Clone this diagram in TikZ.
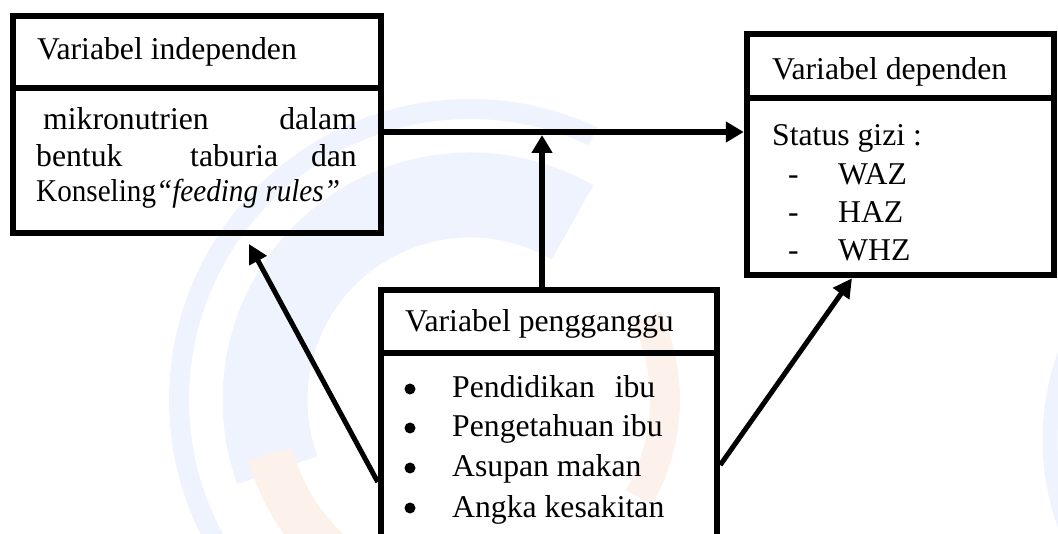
\documentclass[tikz,border=0pt]{standalone}
\usepackage{fontspec}
\setmainfont{Liberation Serif}
\usetikzlibrary{arrows.meta,calc}
\definecolor{wmblue}{RGB}{238,243,253}
\definecolor{wmorange}{RGB}{253,241,236}
\tikzset{
  boxpart/.style={draw=black, line width=6.5pt, rectangle, inner sep=0pt},
  txt/.style={inner sep=0pt, font=\fontsize{31.7}{36}\selectfont},
  bul/.style={circle, fill=black, inner sep=0pt, minimum size=11pt},
  conn/.style={draw=black, line width=6pt, -{Triangle[length=18pt,width=20pt]}},
  connd/.style={draw=black, line width=5pt, -{Triangle[length=19pt,width=19pt]}},
  wm/.style={line cap=butt}
}
\begin{document}
\begin{tikzpicture}[x=1pt,y=-1pt]
\useasboundingbox (0,0) rectangle (1058,534);
\clip (0,0) rectangle (1058,534);
% faint watermark
\draw[wm, wmblue, line width=20pt] (470,400) ++(-65:291) arc[start angle=-65, end angle=-215, radius=291];
\draw[wm, wmblue, line width=85pt] (470,400) ++(-60:205) arc[start angle=-60, end angle=-200, radius=205];
\draw[wm, wmorange, line width=45pt] (470,400) ++(-195:207) arc[start angle=-195, end angle=-240, radius=207];
\draw[wm, wmorange, line width=30pt] (470,400) ++(30:195) arc[start angle=30, end angle=-25, radius=195];
\draw[wm, wmblue, line width=15pt] (1300,440) ++(-150:250) arc[start angle=-150, end angle=-220, radius=250];
% boxes
\node[boxpart, minimum width=368pt, minimum height=72pt] (indepH) at (197,52) {};
\node[boxpart, minimum width=368pt, minimum height=145pt] (indepB) at (197,160.5) {};
\node[boxpart, minimum width=307pt, minimum height=64pt] (depH) at (900.5,66) {};
\node[boxpart, minimum width=307pt, minimum height=177pt] (depB) at (900.5,186.5) {};
\node[boxpart, minimum width=336pt, minimum height=63pt] (confH) at (549,321.5) {};
\node[boxpart, minimum width=336pt, minimum height=267pt] (confB) at (549,486.5) {};
% texts left
\node[txt, anchor=base west] (ti) at (37,60) {Variabel independen};
\node[txt, anchor=base west] (l1a) at (43,130) {mikronutrien};
\node[txt, anchor=base east] (l1b) at (357,130) {dalam};
\node[txt, anchor=base west] (l2a) at (36,167) {bentuk};
\node[txt, anchor=base west] (l2b) at (190,167) {taburia};
\node[txt, anchor=base east] (l2c) at (357,167) {dan};
\node[txt, anchor=base west] (l3) at (36,202) {\scalebox{0.92}[1]{Konseling\textit{“feeding rules”}}};
% texts right
\node[txt, anchor=base west] (td) at (772,80) {Variabel dependen};
\node[txt, anchor=base west] (s0) at (772,146) {Status gizi :};
\node[txt, anchor=base west] (d1) at (788,185) {-};
\node[txt, anchor=base west] (s1) at (838,185) {WAZ};
\node[txt, anchor=base west] (d2) at (788,223) {-};
\node[txt, anchor=base west] (s2) at (838,223) {HAZ};
\node[txt, anchor=base west] (d3) at (788,261) {-};
\node[txt, anchor=base west] (s3) at (838,261) {WHZ};
% texts bottom
\node[txt, anchor=base west] (tc) at (405,332) {Variabel pengganggu};
\node[bul] (b1) at (410,389) {};
\node[txt, anchor=base west] (c1) at (452,398) {Pendidikan\hspace{20pt}ibu};
\node[bul] (b2) at (410,428) {};
\node[txt, anchor=base west] (c2) at (452,437) {Pengetahuan ibu};
\node[bul] (b3) at (410,468) {};
\node[txt, anchor=base west] (c3) at (452,477) {Asupan makan};
\node[bul] (b4) at (410,508) {};
\node[txt, anchor=base west] (c4) at (452,517) {Angka kesakitan};
% connectors
\coordinate (hy) at (0,132);
\draw[conn] (indepB.east |- hy) -- (depB.west |- hy);
\coordinate (vx) at (542,0);
\coordinate (vtip) at (542,135);
\draw[conn] (confH.north -| vx) -- (vtip);
\coordinate (la) at (0,482);
\coordinate (lt) at (249,244);
\draw[connd] (confB.west |- la) -- (lt);
\coordinate (ra) at (0,465);
\coordinate (rt) at (852,0);
\draw[connd] (confB.east |- ra) -- (depB.south -| rt);
\end{tikzpicture}
\end{document}
